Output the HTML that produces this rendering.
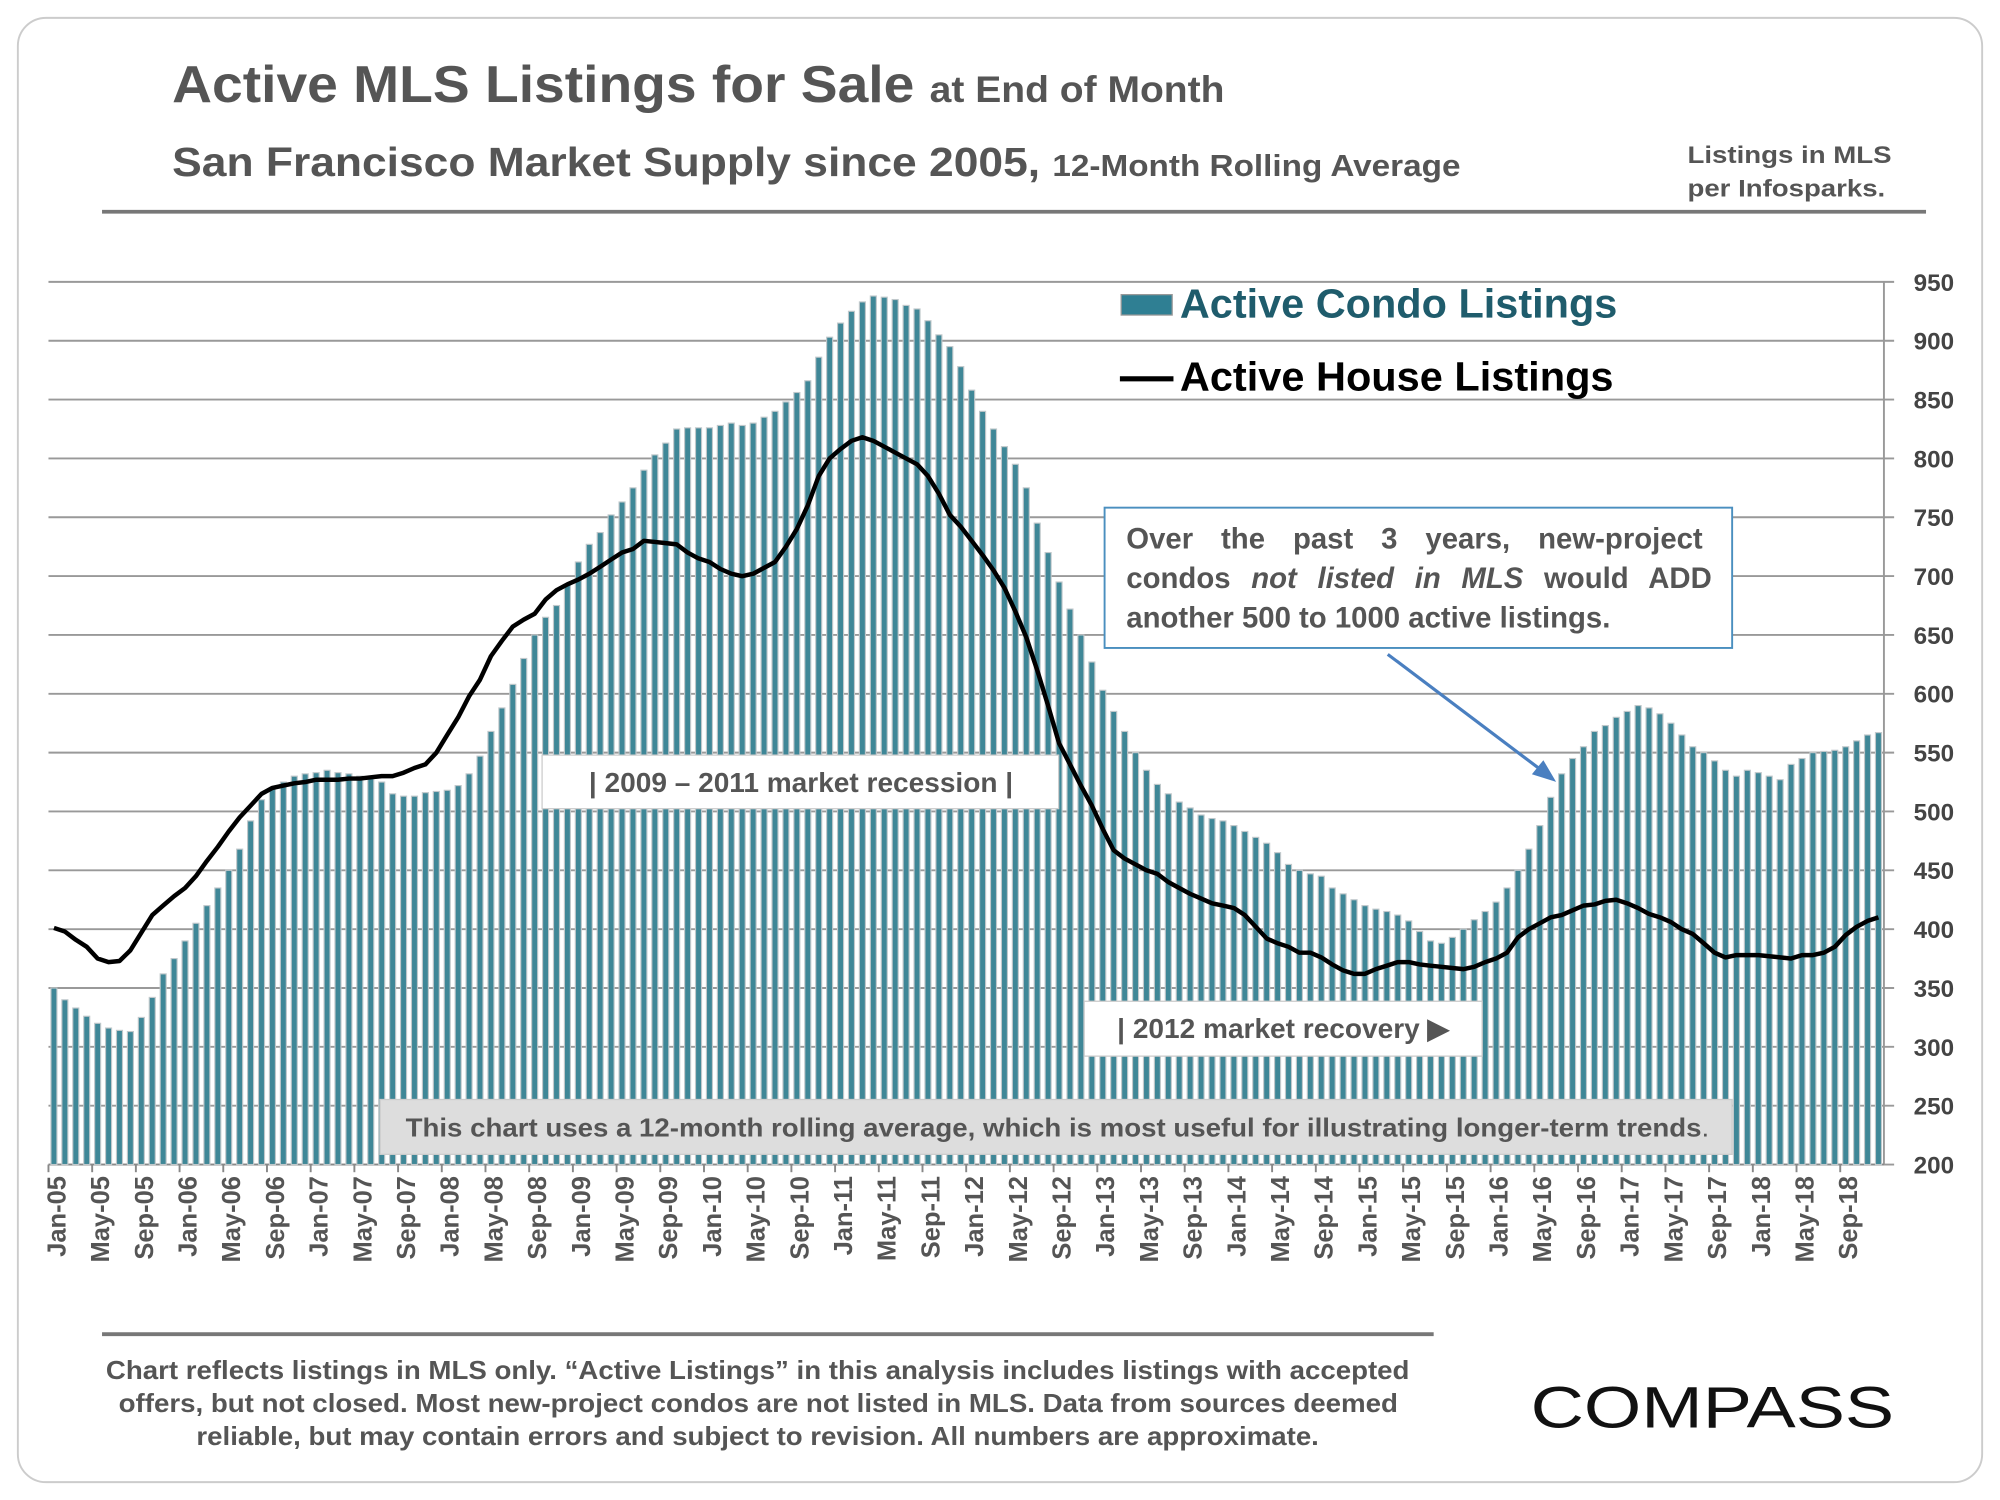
<!DOCTYPE html>
<html><head><meta charset="utf-8"><style>
html,body{margin:0;padding:0;background:#fff}
svg{display:block}
text{font-family:"Liberation Sans",Arial,sans-serif;font-weight:bold}
.n{font-family:"Liberation Sans Narrow","Liberation Sans",sans-serif}
</style></head><body>
<svg id="chart" width="2000" height="1500" viewBox="0 0 1568 1176" preserveAspectRatio="none" xmlns="http://www.w3.org/2000/svg">
<rect x="14" y="14" width="1540" height="1148" rx="22" fill="#fff" stroke="#ccc" stroke-width="1.5"/>
<text x="135" y="80" font-size="41" fill="#555" textLength="825" lengthAdjust="spacingAndGlyphs">Active MLS Listings for Sale <tspan font-size="29">at End of Month</tspan></text>
<text x="135" y="138" font-size="32" fill="#555" textLength="1010" lengthAdjust="spacingAndGlyphs">San Francisco Market Supply since 2005, <tspan font-size="24">12-Month Rolling Average</tspan></text>
<text x="1323" y="128" font-size="19" fill="#555" textLength="160" lengthAdjust="spacingAndGlyphs">Listings in MLS</text>
<text x="1323" y="154" font-size="19" fill="#555" textLength="155" lengthAdjust="spacingAndGlyphs">per Infosparks.</text>
<line x1="80" y1="166" x2="1510" y2="166" stroke="#777" stroke-width="3"/>
<g id="grid"></g>
<g id="bars"></g>
<g id="xlabels"></g>
<g id="ylabels"></g>
<path id="house-line" fill="none" stroke="#000" stroke-width="3.5" stroke-linejoin="round"/>
<rect x="879" y="231" width="40" height="16" fill="#2f7f93" stroke="#999"/>
<text x="925" y="249" font-size="32" fill="#1f5c6c" class="n" textLength="343" lengthAdjust="spacingAndGlyphs">Active Condo Listings</text>
<line x1="878" y1="297" x2="920" y2="297" stroke="#000" stroke-width="4"/>
<text x="925" y="306" font-size="32" fill="#000" class="n" textLength="340" lengthAdjust="spacingAndGlyphs">Active House Listings</text>
<rect x="866" y="398" width="492" height="110" fill="#fff" stroke="#4a8fbf" stroke-width="1.5"/>
<text x="883" y="430" font-size="23" fill="#555" word-spacing="15.5">Over the past 3 years, new-project</text>
<text x="883" y="461" font-size="23" fill="#555" word-spacing="9.8">condos <tspan font-style="italic">not listed in MLS</tspan> would ADD</text>
<text x="883" y="492" font-size="23" fill="#555">another 500 to 1000 active listings.</text>
<line x1="1088" y1="513" x2="1210" y2="605" stroke="#4a7fc0" stroke-width="2.5"/>
<polygon points="1220,613 1201,607 1210,596" fill="#4a7fc0"/>
<rect x="425" y="592" width="405" height="42" fill="#fff" stroke="#ccc"/>
<text x="628" y="621" font-size="22" fill="#555" text-anchor="middle">| 2009 – 2011 market recession |</text>
<rect x="850" y="785" width="312" height="43" fill="#fff" stroke="#ccc"/>
<text x="1006" y="814" font-size="22" fill="#555" text-anchor="middle">| 2012 market recovery ▶</text>
<rect x="298" y="862" width="1060" height="43" fill="#ddd" stroke="#ccc"/>
<text x="318" y="891" font-size="20.5" fill="#555" textLength="1022" lengthAdjust="spacingAndGlyphs">This chart uses a 12-month rolling average, which is most useful for illustrating longer-term trends<tspan style="font-weight:normal">.</tspan></text>
<line x1="80" y1="1046" x2="1124" y2="1046" stroke="#777" stroke-width="3"/>
<text x="83" y="1081" font-size="20" fill="#555" textLength="1022" lengthAdjust="spacingAndGlyphs">Chart reflects listings in MLS only. “Active Listings” in this analysis includes listings with accepted</text>
<text x="93" y="1107" font-size="20" fill="#555" textLength="1003" lengthAdjust="spacingAndGlyphs">offers, but not closed. Most new-project condos are not listed in MLS. Data from sources deemed</text>
<text x="154" y="1133" font-size="20" fill="#555" textLength="880" lengthAdjust="spacingAndGlyphs">reliable, but may contain errors and subject to revision. All numbers are approximate.</text>
<text x="1200" y="1119" font-size="46" fill="#111" style="font-weight:normal" textLength="285" lengthAdjust="spacingAndGlyphs">COMPASS</text>
</svg>
<script>
const condo=[350,340,333,326,320,316,314,313,325,342,362,375,
390,405,420,435,450,468,492,510,520,525,530,532,
533,535,533,532,530,528,525,515,513,513,516,517,
518,522,532,547,568,588,608,630,650,665,675,693,
712,727,737,752,763,775,790,803,813,825,826,826,
826,828,830,828,830,835,840,848,856,866,886,903,
915,925,933,938,937,935,930,927,917,905,895,878,
858,840,825,810,795,775,745,720,695,672,650,627,
603,585,568,550,535,523,515,508,503,497,494,492,
488,483,478,473,465,455,450,447,445,435,430,425,
420,417,415,412,407,398,390,388,393,400,408,415,
423,435,450,468,488,512,532,545,555,568,573,580,
585,590,588,583,575,565,555,550,543,535,530,535,
533,530,527,540,545,550,551,552,555,560,565,567];
const house=[401,398,391,385,375,372,373,382,397,412,420,428,
435,445,458,470,483,495,505,515,520,522,524,525,
527,527,527,528,528,529,530,530,533,537,540,550,
565,580,598,612,632,645,657,663,668,680,688,693,
697,702,708,714,720,723,730,729,728,727,720,715,
712,706,702,700,702,707,712,725,740,760,785,800,
808,815,818,815,810,805,800,795,785,770,752,742,
730,718,705,690,670,648,620,590,558,540,522,505,
485,467,460,455,450,447,440,435,430,426,422,420,
418,412,402,392,388,385,380,380,376,370,365,362,
362,366,369,372,372,370,369,368,367,366,368,372,
375,380,393,400,405,410,412,416,420,421,424,425,
422,418,413,410,406,400,396,388,380,376,378,378,
378,377,376,375,378,378,380,385,395,402,407,410];
const months=["Jan","Feb","Mar","Apr","May","Jun","Jul","Aug","Sep","Oct","Nov","Dec"];
const yTicks=[200,250,300,350,400,450,500,550,600,650,700,750,800,850,900,950];
const NS="http://www.w3.org/2000/svg";
const X0=38,X1=1477,Y0=913,Y1=221;
const step=(X1-X0)/condo.length;
const xs=i=>X0+step*(i+0.5);
const ys=v=>Y0-(v-200)/(950-200)*(Y0-Y1);
function mk(t,a){const e=document.createElementNS(NS,t);for(const k in a)e.setAttribute(k,a[k]);return e;}
const grid=document.getElementById('grid'),yl=document.getElementById('ylabels');
yTicks.forEach(v=>{
 const l=mk('line',{x1:38,x2:1485,y1:ys(v),y2:ys(v),stroke:'#999','stroke-width':1.5});
 
 
 grid.appendChild(l);
 const t=mk('text',{x:1532,y:ys(v)+7,'font-size':19,fill:'#444','text-anchor':'end'});
 t.textContent=v;
 
 
 yl.appendChild(t);
});
const ax=mk('line',{x1:1477,x2:1477,y1:Y1,y2:Y0,stroke:'#999','stroke-width':1.5});


grid.appendChild(ax);
const bx=mk('line',{x1:X0,x2:X1,y1:Y0,y2:Y0,stroke:'#888','stroke-width':1.5});


grid.appendChild(bx);
const bars=document.getElementById('bars'),xl=document.getElementById('xlabels');
const bw=step*0.55;
condo.forEach((v,i)=>{
 const r=mk('rect',{x:xs(i)-bw/2,y:ys(v),width:bw,height:Y0-ys(v),fill:'#3f8797',stroke:'#c0c8cb','stroke-width':0.9});
 
 
 bars.appendChild(r);
 if(i%4===0){
  const tk=mk('line',{x1:X0+step*i,x2:X0+step*i,y1:Y0,y2:Y0+6,stroke:'#888','stroke-width':1.5});
  
  
  xl.appendChild(tk);
  const yr=String(5+Math.floor(i/12)).padStart(2,'0');
  const x=xs(i)+2;
  const t=mk('text',{x:x,y:922,'font-size':20,fill:'#555','text-anchor':'end',transform:`rotate(-90 ${x} 922)`,dy:'0.35em'});
  t.textContent=months[i%12]+'-'+yr;
  
  
  xl.appendChild(t);
 }
});
document.getElementById('house-line').setAttribute('d',house.map((v,i)=>(i?'L':'M')+xs(i).toFixed(1)+' '+ys(v).toFixed(1)).join(' '));
</script>
</body></html>
